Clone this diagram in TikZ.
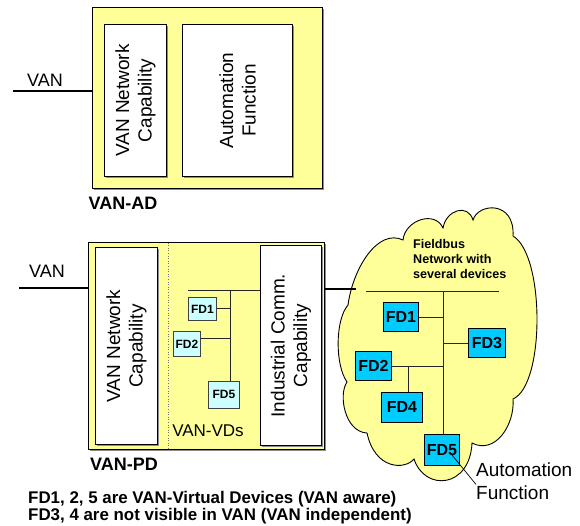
\documentclass[tikz,border=0pt]{standalone}
\usepackage{fontspec}
\setmainfont{Liberation Sans}
\usetikzlibrary{shadows}
\definecolor{paleyellow}{HTML}{FFFF99}
\definecolor{devcyan}{HTML}{00CCFF}
\definecolor{vdcyan}{HTML}{CCFFFF}
\newcommand\fsz[2]{\fontsize{#1}{#2}\selectfont}
\begin{document}
\begin{tikzpicture}[x=1pt,y=-1pt,
  shade box/.style={drop shadow={shadow xshift=1.3pt,shadow yshift=-1.3pt,fill=black!45,opacity=1}},
  frame/.style={draw=black,line width=1pt,fill=paleyellow,shade box,anchor=north west,inner sep=0pt},
  panel/.style={draw=black,line width=1pt,fill=white,shade box,anchor=north west,inner sep=0pt},
  vdbox/.style={draw=black!75,line width=0.8pt,fill=vdcyan,anchor=north west,inner sep=0pt,font=\fsz{12}{14}\bfseries},
  fdbox/.style={draw=black,line width=0.9pt,fill=devcyan,anchor=north west,inner sep=0pt,font=\fsz{16}{18}\bfseries},
  vlabel/.style={rotate=90,align=center,inner sep=0pt,font=\fsz{19}{22.5}},
  plain/.style={inner sep=0pt,font=\fsz{18}{21}},
  title/.style={inner sep=0pt,font=\fsz{18}{21}\bfseries},
  vanline/.style={line width=2pt},
  bus/.style={line width=0.9pt,draw=black!85},
  cloudshape/.style={draw=black,line width=0.9pt,fill=paleyellow}]
\useasboundingbox (0,0) rectangle (580,525);

% ---------- VAN-AD: application device ----------
\node[frame,minimum width=230pt,minimum height=181pt] (ad) at (92,7) {};
\node[panel,minimum width=62pt,minimum height=152pt] (vncA) at (104,24) {};
\node[panel,minimum width=110pt,minimum height=152pt] (autoA) at (182,24) {};
\node[vlabel] at (vncA.center) {VAN Network\\Capability};
\node[vlabel] at (autoA.center) {Automation\\Function};
\node[plain] (vanAtxt) at (45,80) {VAN};
\node[title] (adtxt) at (123,203) {VAN-AD};
\coordinate (vanA) at (13,91);
\draw[vanline] (vanA) -- (vanA -| ad.west);

% ---------- VAN-PD: proxy device ----------
\node[frame,minimum width=236pt,minimum height=207pt] (pd) at (88,242) {};
\draw[black!55,line width=0.6pt,dotted] (168,242.5) -- (168,448.5);
\node[panel,minimum width=62pt,minimum height=197pt] (vncP) at (95,247) {};
\node[panel,minimum width=61pt,minimum height=200pt] (icc) at (260,245) {};
\node[vlabel] at (vncP.center) {VAN Network\\Capability};
\node[vlabel] at (icc.center) {Industrial Comm.\\Capability};
\node[plain] (vanPtxt) at (47,271) {VAN};
\node[title] (pdtxt) at (124,464) {VAN-PD};
\node[inner sep=0pt,font=\fsz{17}{20}] (vdtxt) at (208,431) {VAN-VDs};
\coordinate (vanP) at (19,288);
\draw[vanline] (vanP) -- (vanP -| pd.west);

% virtual devices inside the proxy
\node[vdbox,minimum width=28pt,minimum height=23pt] (fd1v) at (188,297) {FD1};
\node[vdbox,minimum width=27pt,minimum height=25pt] (fd2v) at (173,331) {FD2};
\node[vdbox,minimum width=31pt,minimum height=27pt] (fd5v) at (208,381) {FD5};
\coordinate (busLv) at (188,290);
\coordinate (vtop) at (230,290);
\draw[bus] (busLv) -- (busLv -| icc.west);
\draw[bus] (vtop) -- (vtop |- fd5v.north);
\draw[bus] (fd1v.east) -- (fd1v.east -| vtop);
\draw[bus] ([yshift=5pt]fd2v.east) -- ([yshift=5pt]fd2v.east -| vtop);

% ---------- Fieldbus cloud ----------
\draw[cloudshape] (348,305)
  .. controls (353,268) and (378,228) .. (403,240)
  .. controls (405,220) and (435,210) .. (443,228)
  .. controls (446,210) and (468,203) .. (473,220)
  .. controls (478,203) and (515,200) .. (513,236)
  .. controls (545,255) and (545,385) .. (513,399)
  .. controls (515,425) and (495,455) .. (472,443)
  .. controls (470,488) and (425,492) .. (414,459)
  .. controls (405,470) and (375,470) .. (367,433)
  .. controls (345,432) and (338,395) .. (347,382)
  .. controls (335,365) and (335,320) .. (348,305) -- cycle;
\coordinate (cport) at (356,289);
\draw[vanline] (pd.east |- cport) -- (cport);

\node[anchor=north west,align=left,inner sep=0pt,font=\fsz{12.6}{15}\bfseries] (fbtxt) at (413,239)
  {Fieldbus\\Network with\\several devices};

\node[fdbox,minimum width=35pt,minimum height=29pt] (fd1) at (383,302) {FD1};
\node[fdbox,minimum width=37pt,minimum height=29pt] (fd3) at (468,328) {FD3};
\node[fdbox,minimum width=36pt,minimum height=29pt] (fd2) at (355,351) {FD2};
\node[fdbox,minimum width=41pt,minimum height=30pt] (fd4) at (381,392) {FD4};
\node[fdbox,minimum width=35pt,minimum height=31pt] (fd5) at (424,434) {FD5};

\coordinate (cbusL) at (366,291);
\coordinate (cbus) at (443,291);
\coordinate (cbusR) at (499,291);
\coordinate (j24) at (408,365.5);
\draw[bus] (cbusL) -- (cbusR);
\draw[bus] (cbus) -- (cbus |- fd5.north);
\draw[bus] (fd1.east) -- (fd1.east -| cbus);
\draw[bus] (fd3.west) -- (fd3.west -| cbus);
\draw[bus] (fd2.east) -- (fd2.east -| cbus);
\draw[bus] (j24) -- (j24 |- fd4.north);

\node[anchor=north west,align=left,inner sep=0pt,font=\fsz{19}{22.5}] (afl) at (476,463)
  {Automation\\Function};
\coordinate (leadA) at (452,455);
\draw[line width=0.7pt] (leadA) -- ([yshift=-3pt]afl.west);

% ---------- caption ----------
\node[anchor=north west,align=left,inner sep=0pt,font=\fsz{16.9}{17}\bfseries] (note) at (28,491)
  {FD1, 2, 5 are VAN-Virtual Devices (VAN aware)\\FD3, 4 are not visible in VAN (VAN independent)};
\end{tikzpicture}
\end{document}
